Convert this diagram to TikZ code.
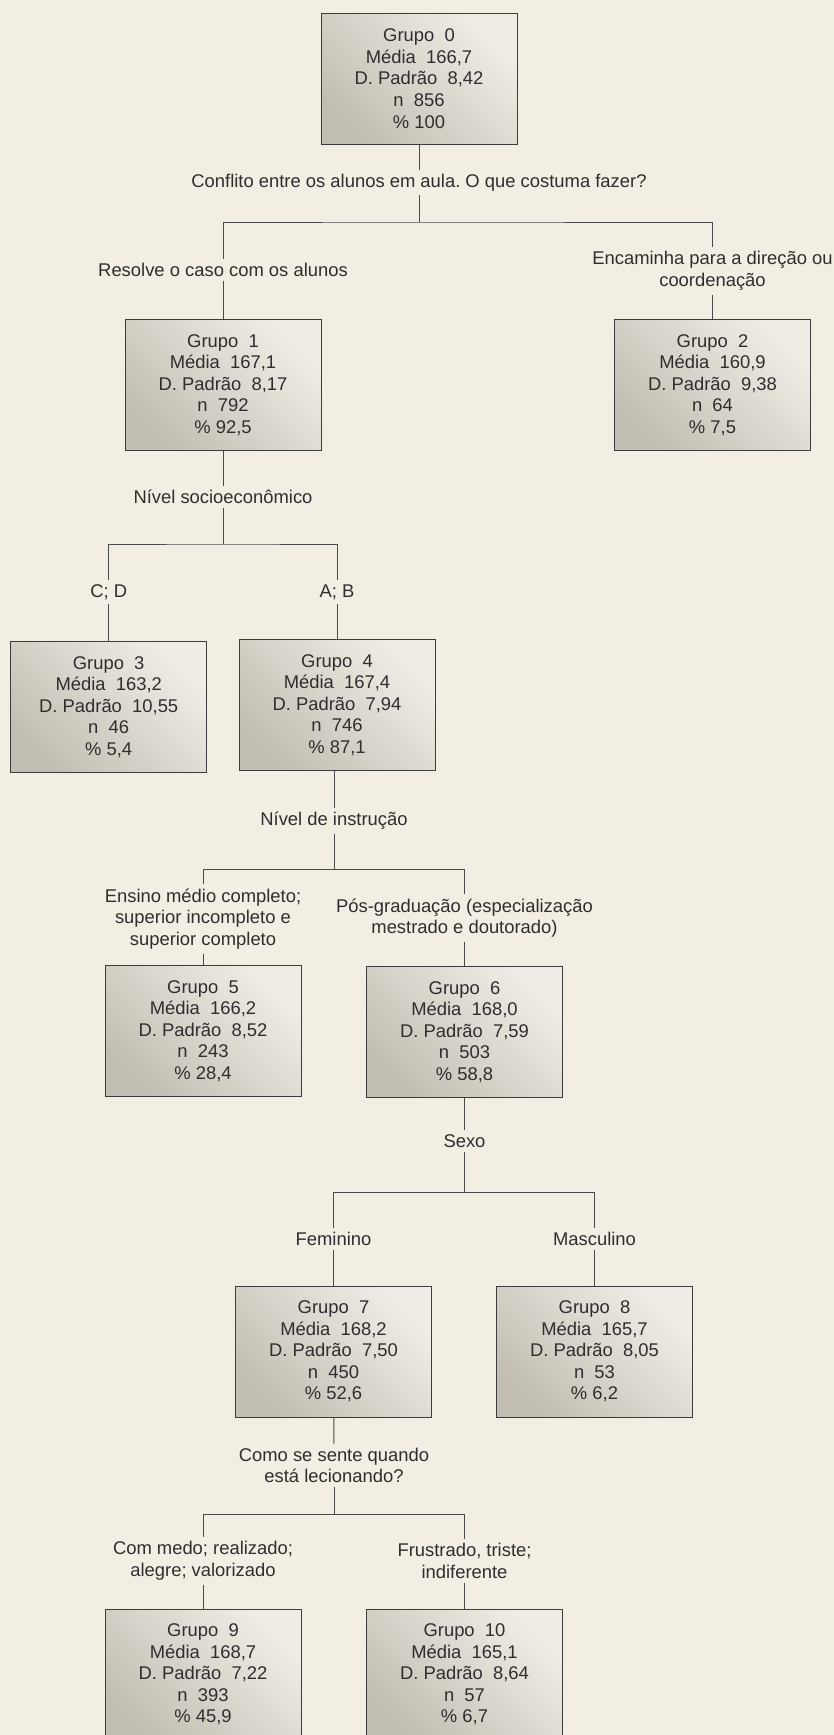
\documentclass[tikz,border=0pt]{standalone}
\usepackage{fontspec}
\setmainfont{Liberation Sans}
\usetikzlibrary{positioning}
\definecolor{pagebg}{HTML}{F2EEE3}
\definecolor{boxdark}{HTML}{C2BEB3}
\definecolor{boxlight}{HTML}{F0EDE6}
\definecolor{boxstroke}{HTML}{3C3C3C}
\definecolor{linkstroke}{HTML}{4A4A4A}
\definecolor{txt}{HTML}{2E2E2E}
\frenchspacing

\begin{document}
\begin{tikzpicture}[
  x=0.5pt, y=-0.5pt,
  font=\fontsize{9.2}{10.8}\selectfont, text=txt,
  grupo/.style={rectangle, draw=boxstroke, line width=0.5pt,
                left color=boxdark, right color=boxlight, shading angle=135,
                minimum width=98pt, minimum height=65.5pt,
                align=center, inner sep=0pt},
  split/.style={align=center, inner sep=2pt},
  link/.style={draw=linkstroke, line width=0.5pt}
]

\fill[pagebg] (0,0) rectangle (834,1735);
\useasboundingbox (0,0) rectangle (834,1735);

% Grupos (caixas da árvore)
\node[grupo] (g0)  at (419,78.5)    {Grupo~~0\\Média~~166,7\\D. Padrão~~8,42\\n~~856\\\% 100};
\node[grupo] (g1)  at (223,385)     {Grupo~~1\\Média~~167,1\\D. Padrão~~8,17\\n~~792\\\% 92,5};
\node[grupo] (g2)  at (712.5,385)   {Grupo~~2\\Média~~160,9\\D. Padrão~~9,38\\n~~64\\\% 7,5};
\node[grupo] (g3)  at (108.7,707)   {Grupo~~3\\Média~~163,2\\D. Padrão~~10,55\\n~~46\\\% 5,4};
\node[grupo] (g4)  at (337,705)     {Grupo~~4\\Média~~167,4\\D. Padrão~~7,94\\n~~746\\\% 87,1};
\node[grupo] (g5)  at (203,1031)    {Grupo~~5\\Média~~166,2\\D. Padrão~~8,52\\n~~243\\\% 28,4};
\node[grupo] (g6)  at (464.5,1032)  {Grupo~~6\\Média~~168,0\\D. Padrão~~7,59\\n~~503\\\% 58,8};
\node[grupo] (g7)  at (333.5,1351.5) {Grupo~~7\\Média~~168,2\\D. Padrão~~7,50\\n~~450\\\% 52,6};
\node[grupo] (g8)  at (594.5,1351.5) {Grupo~~8\\Média~~165,7\\D. Padrão~~8,05\\n~~53\\\% 6,2};
\node[grupo] (g9)  at (203,1674.5)  {Grupo~~9\\Média~~168,7\\D. Padrão~~7,22\\n~~393\\\% 45,9};
\node[grupo] (g10) at (464.5,1674.5) {Grupo~~10\\Média~~165,1\\D. Padrão~~8,64\\n~~57\\\% 6,7};

% Variáveis de divisão
\node[split] (q0) at (419,182.5) {Conflito entre os alunos em aula. O que costuma fazer?};
\node[split] (q1) at (223,497)   {Nível socioeconômico};
\node[split] (q4) at (334,821)   {Nível de instrução};
\node[split] (q6) at (464.5,1141) {Sexo};
\node[split] (q7) at (334,1465.5) {Como se sente quando\\está lecionando?};

% Categorias
\node[split] (a1)  at (223,270)   {Resolve o caso com os alunos};
\node[split] (a2)  at (712.5,271) {Encaminha para a direção ou\\coordenação};
\node[split] (a3)  at (108.7,592) {C; D};
\node[split] (a4)  at (337,592)   {A; B};
\node[split] (a5)  at (203,919)   {Ensino médio completo;\\superior incompleto e\\superior completo};
\node[split] (a6)  at (464.5,918) {Pós-graduação (especialização\\mestrado e doutorado)};
\node[split] (a7)  at (333.5,1239) {Feminino};
\node[split] (a8)  at (594.5,1239) {Masculino};
\node[split] (a9)  at (203,1561)  {Com medo; realizado;\\alegre; valorizado};
\node[split] (a10) at (464.5,1561) {Frustrado, triste;\\indiferente};

% Junções das barras horizontais
\coordinate (j0) at (419,222);
\coordinate (j1) at (223,544);
\coordinate (j4) at (334,869.5);
\coordinate (j6) at (464.5,1192);
\coordinate (j7) at (334,1514);

\draw[link] (g0) -- (q0);
\draw[link] (q0) -- (j0);
\draw[link] (a1.north) |- (j0) -| (a2.north);
\draw[link] (a1) -- (g1);
\draw[link] (a2) -- (g2);

\draw[link] (g1) -- (q1);
\draw[link] (q1) -- (j1);
\draw[link] (a3.north) |- (j1) -| (a4.north);
\draw[link] (a3) -- (g3);
\draw[link] (a4) -- (g4);

\draw[link] (q4.north |- g4.south) -- (q4.north);
\draw[link] (q4) -- (j4);
\draw[link] (a5.north) |- (j4) -| (a6.north);
\draw[link] (a5) -- (g5);
\draw[link] (a6) -- (g6);

\draw[link] (g6) -- (q6);
\draw[link] (q6) -- (j6);
\draw[link] (a7.north) |- (j6) -| (a8.north);
\draw[link] (a7) -- (g7);
\draw[link] (a8) -- (g8);

\draw[link] (g7) -- (q7);
\draw[link] (q7) -- (j7);
\draw[link] (a9.north) |- (j7) -| (a10.north);
\draw[link] (a9) -- (g9);
\draw[link] (a10) -- (g10);

\end{tikzpicture}
\end{document}
